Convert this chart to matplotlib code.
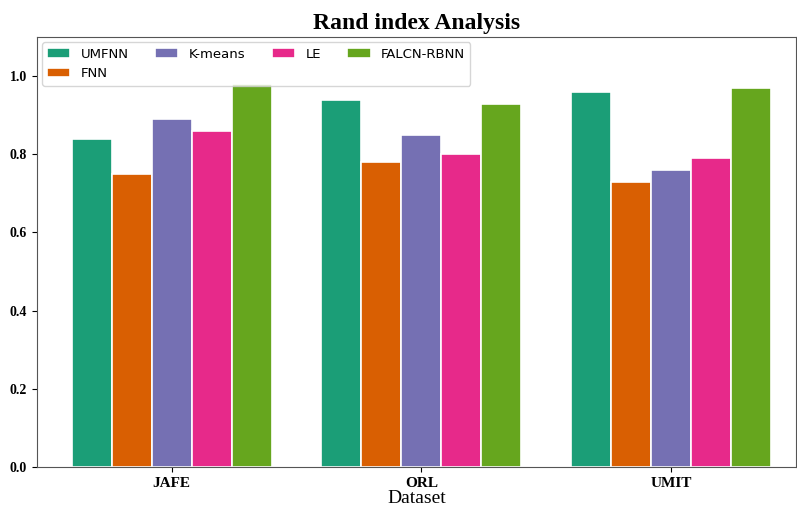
import matplotlib.pyplot as plt
import numpy as np

datasets = ["JAFE", "ORL", "UMIT"]
methods = ["UMFNN", "FNN", "K-means", "LE", "FALCN-RBNN"]
umfnn = [0.84, 0.94, 0.96]
fnn = [0.75, 0.78, 0.73]
kmeans = [0.89, 0.85, 0.76]
le = [0.86, 0.80, 0.79]
falcn = [0.98, 0.93, 0.97]
colors = ["#1b9e77", "#d95f02", "#7570b3", "#e7298a", "#66a61e"]

series = [umfnn, fnn, kmeans, le, falcn]

fig = plt.figure(figsize=(7.97, 5.08), dpi=100)
ax = fig.add_axes([0.046, 0.081, 0.953, 0.846])

x = np.arange(len(datasets))
width = 0.16
for i, vals in enumerate(series):
    ax.bar(x + (i - 2) * width, vals, width, color=colors[i],
           edgecolor="white", linewidth=1.2, label=methods[i])

ax.set_ylim(0, 1.1)
ax.set_xlim(-0.54, 2.5)
ax.set_xticks(x)
ax.set_xticklabels(datasets, fontfamily="Liberation Serif", fontweight="bold", fontsize=11)
ax.set_yticks([0.0, 0.2, 0.4, 0.6, 0.8, 1.0])
ax.set_yticklabels(["0.0", "0.2", "0.4", "0.6", "0.8", "1.0"],
                   fontfamily="Liberation Serif", fontweight="bold", fontsize=10)
ax.set_xlabel("Dataset", fontfamily="Liberation Serif", fontsize=14, labelpad=0)
ax.set_title("Rand index Analysis", fontfamily="Liberation Serif",
             fontweight="bold", fontsize=17, pad=6)
for s in ax.spines.values():
    s.set_color("#555555")

ax.legend(loc="upper left", ncol=4, fontsize=9.5, columnspacing=2.0,
          handlelength=1.75, borderaxespad=0.4)

fig.savefig("out.png", dpi=100)
